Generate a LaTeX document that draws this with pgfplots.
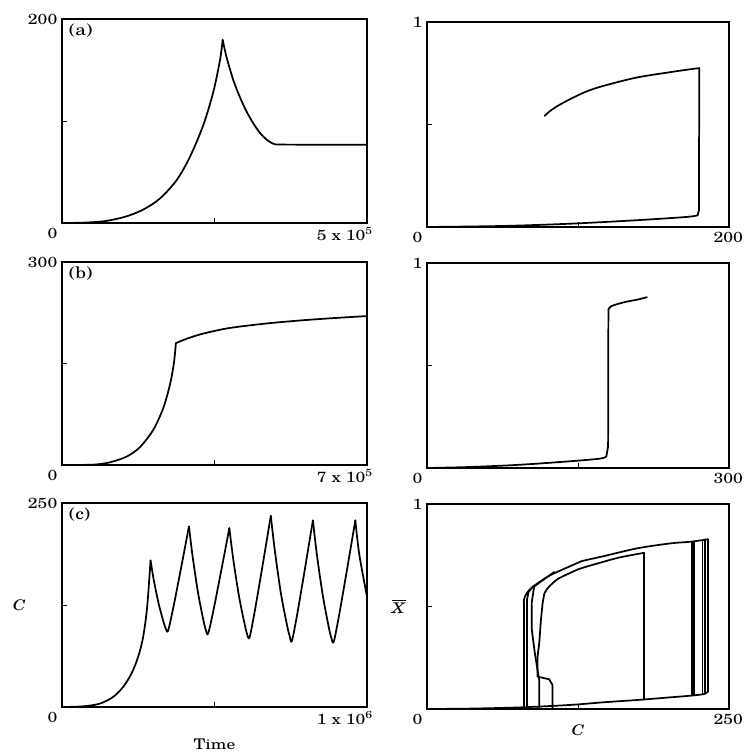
\documentclass[border=0pt]{standalone}
\usepackage{fontspec}
\setmainfont{TeX Gyre Schola}[FakeStretch=1.2]
\usepackage{pgfplots}
\pgfplotsset{compat=1.18}

\newcommand{\lab}{\fontsize{11}{13}\selectfont}
\pgfplotsset{
  panel/.style={
    scale only axis, tick align=inside, tick pos=left,
    scaled x ticks=false, scaled y ticks=false,
    axis line style={line width=1.1pt}, major tick length=4pt,
    every tick/.style={black, line width=0.7pt},
    tick label style={font=\lab}, label style={font=\lab},
    xticklabel style={anchor=north east},
    every axis plot post/.append style={black, solid, line width=1.3pt, line cap=round, line join=round, mark=none},
  },
  lcol/.style={panel, width=228.75pt},
  rcol/.style={panel, width=226.5pt, xmin=0, ymin=0, ymax=1, ytick={0,0.5,1}, yticklabels={,,1}},
}
\newcommand{\tag}[1]{\node[anchor=north west, font=\fontsize{12}{14}\selectfont, inner sep=0pt] at ([xshift=5pt,yshift=-3pt]rel axis cs:0,1) {#1};}

\begin{document}
\begin{tikzpicture}
\useasboundingbox (0,0) rectangle (557.25pt,564pt);

% (a) C vs time
\begin{axis}[lcol, at={(46.5pt,396.75pt)}, anchor=south west, height=153pt,
  xmin=0, xmax=5e5, ymin=0, ymax=200,
  xtick={0,2.5e5,5e5}, xticklabels={0,,5 x 10\textsuperscript{5}\kern-8pt},
  ytick={0,100,200}, yticklabels={,,200}]
\addplot+[smooth] coordinates {(0,0) (34500,0.3) (61900,1.3) (78300,2.6) (105700,6.5)
  (133100,13.1) (160400,23.9) (187800,41.9) (209700,64.8) (231600,95.9)
  (248100,128.6) (259000,159.7) (263400,179.5)};
\addplot+[smooth] coordinates {(263400,179.5) (270000,162) (280900,140)
  (291900,123) (302800,109) (313800,97.5) (324700,88.2) (335700,81.6)
  (346600,77.6) (357600,76.9) (400000,76.8) (500000,76.6)};
\tag{(a)}
\end{axis}

% (a) Xbar vs C
\begin{axis}[rcol, at={(320.25pt,393.75pt)}, anchor=south west, height=153.75pt,
  xmax=200, xtick={0,100,200}, xticklabels={0,,200\kern-14pt}]
\addplot+[smooth] coordinates {(0,0) (50.4,0.005) (94.6,0.016) (138.8,0.033) (171.9,0.049)
  (179.2,0.057)};
\addplot coordinates {(179.2,0.057) (180.1,0.082) (180.3,0.775)};
\addplot+[smooth] coordinates {(180.3,0.775) (171.9,0.767) (160.9,0.755)
  (138.8,0.729) (116.7,0.688) (105.6,0.661) (94.6,0.623) (85.7,0.587)
  (80.2,0.558) (78.0,0.542)};
\end{axis}

% (b) C vs time
\begin{axis}[lcol, at={(46.5pt,215.25pt)}, anchor=south west, height=152.25pt,
  xmin=0, xmax=7e5, ymin=0, ymax=300,
  xtick={0,3.5e5,7e5}, xticklabels={0,,7 x 10\textsuperscript{5}\kern-8pt},
  ytick={0,150,300}, yticklabels={,,300}]
\addplot+[smooth] coordinates {(0,0) (71300,0.5) (109600,3.9) (148000,12.3) (178600,26.2)
  (209300,51.8) (232300,83.9) (247600,118.4) (256800,150.5) (261400,180.1)};
\addplot+[smooth] coordinates {(261400,180.1)
  (286000,186.5) (316600,192.9) (355000,198.8) (393300,203.3) (470000,209.2)
  (546700,213.6) (623300,217.1) (700000,220.1)};
\tag{(b)}
\end{axis}

% (b) Xbar vs C
\begin{axis}[rcol, at={(320.25pt,213pt)}, anchor=south west, height=153.75pt,
  xmax=300, xtick={0,150,300}, xticklabels={0,,300\kern-14pt}]
\addplot+[smooth] coordinates {(0,0) (43.6,0.005) (93.1,0.016) (142.6,0.033) (172.3,0.046)
  (178.2,0.057)};
\addplot coordinates {(178.2,0.057) (179.9,0.106) (180.2,0.772)};
\addplot+[smooth] coordinates {(180.2,0.772) (182.8,0.789) (195.4,0.808)
  (208.6,0.821) (218.5,0.833)};
\end{axis}

% (c) C vs time
\begin{axis}[lcol, at={(46.5pt,33.75pt)}, anchor=south west, height=153pt,
  xmin=0, xmax=1e6, ymin=0, ymax=250,
  xtick={0,5e5,1e6}, xticklabels={0,,1 x 10\textsuperscript{6}\kern-8pt},
  ytick={0,125,250}, yticklabels={,,250},
  xlabel={Time}, ylabel={\textit{C}},
  every axis x label/.style={at={(rel axis cs:0.5,0)}, yshift=-28pt, anchor=center, font=\lab},
  every axis y label/.style={at={(rel axis cs:0,0.5)}, xshift=-32pt, anchor=center, font=\lab}]
\addplot+[smooth] coordinates {(0,0) (69000,0.8) (123800,4.1) (167600,12.3) (200400,24.6)
  (227800,41.0) (249700,61.5) (266200,86.1) (279300,122.9) (290300,179.5)};
\addplot+[smooth] coordinates {(290300,179.5)
  (301200,155.1) (317700,125.4) (334100,102.7) (340600,95.7) (345000,92.2)
  (350700,97.4) (366400,124.5) (391300,172.2) (416200,221.3)};
\addplot+[smooth] coordinates {(416200,221.3)
  (428300,184.2) (446400,139.2) (464400,104.8) (471700,94.2) (476500,88.9)
  (482300,94.1) (498200,121.5) (523400,169.7) (548700,219.2)};
\addplot+[smooth] coordinates {(548700,219.2)
  (561400,181.3) (580500,135.4) (599600,100.2) (606800,89.4) (612300,84.0)
  (618100,90.0) (634000,121.6) (659300,177.2) (684600,234.4)};
\addplot+[smooth] coordinates {(684600,234.4)
  (698000,191.1) (718000,138.6) (738800,98.4) (746900,86.1) (751400,79.9)
  (757100,85.9) (772800,117.1) (797700,172.2) (822600,228.7)};
\addplot+[smooth] coordinates {(822600,228.7)
  (835700,186.7) (855500,135.7) (875200,96.7) (883000,84.7) (888300,78.7)
  (894200,84.7) (910300,116.2) (936000,171.7) (961700,228.7)};
\addplot+[smooth] coordinates {(961700,228.7) (974800,186.7) (1000000,135.2)};
\tag{(c)}
\end{axis}

% (c) Xbar vs C
\begin{axis}[rcol, at={(320.25pt,32.25pt)}, anchor=south west, height=153.75pt,
  xmax=250, xtick={0,125,250}, xticklabels={0,,250\kern-14pt},
  xlabel={\textit{C}}, ylabel={$\overline{\mbox{\textit{X}}}$},
  every axis x label/.style={at={(rel axis cs:0.5,0)}, yshift=-16pt, anchor=center, font=\lab},
  every axis y label/.style={at={(rel axis cs:0,0.5)}, xshift=-21pt, anchor=center, font=\lab}]
% lower branch
\addplot+[smooth] coordinates {(0,0) (36.4,0.002) (77.7,0.008) (119,0.02) (146.6,0.033)
  (174.2,0.044) (201.7,0.057) (218.3,0.065) (229.3,0.073) (232.6,0.085)};
% outer upper branch
\addplot coordinates {(232.6,0.085) (232.6,0.828)};
\addplot+[smooth] coordinates {(232.6,0.828) (218.3,0.816) (201.7,0.808)
  (174.2,0.784) (146.6,0.746) (127.4,0.72) (119,0.698) (102.5,0.654)
  (91.5,0.613) (84.6,0.58) (81,0.548) (80,0.52)};
\addplot coordinates {(80,0.52) (80,0.005)};
% jumps at the later peaks
\addplot coordinates {(219.2,0.066) (219.2,0.815)};
\addplot coordinates {(221,0.068) (221,0.817)};
\addplot coordinates {(228,0.072) (228,0.822)};
\addplot coordinates {(229.9,0.074) (229.9,0.824)};
% drops at the troughs
\addplot coordinates {(88,0.6) (84,0.57) (82.7,0.53) (82.7,0.005)};
\addplot coordinates {(105.3,0.668) (95,0.625) (88.7,0.597) (86.6,0.516)
  (86.8,0.385) (89.3,0.272) (91.5,0.19) (92.9,0.141) (92.9,0.005)};
% first loop
\addplot coordinates {(179.7,0.046) (179.7,0.762)};
\addplot+[smooth] coordinates {(179.7,0.762) (160,0.74) (146.6,0.719)
  (127.4,0.686) (119,0.665) (108,0.633) (99.8,0.589) (97,0.56)};
\addplot coordinates {(97,0.56) (95.7,0.516)
  (94.3,0.434) (92.9,0.32) (91.5,0.255) (91.5,0.158) (101.1,0.145)
  (103.9,0.117) (103.9,0.005)};
\end{axis}
\end{tikzpicture}
\end{document}
